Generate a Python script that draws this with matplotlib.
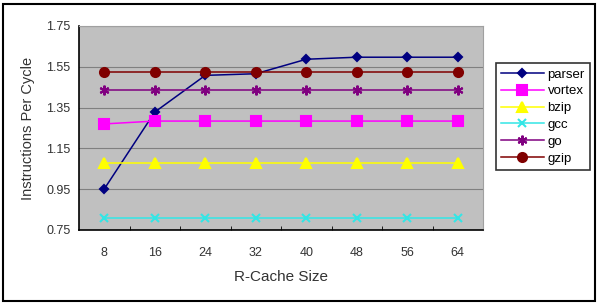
import matplotlib.pyplot as plt
from matplotlib.patches import Rectangle

# R-Cache sizes and IPC per benchmark
sizes = ["8", "16", "24", "32", "40", "48", "56", "64"]
parser = [0.951, 1.328, 1.508, 1.516, 1.587, 1.597, 1.597, 1.597]
vortex = [1.270, 1.284, 1.284, 1.284, 1.284, 1.284, 1.284, 1.284]
bzip = [1.077, 1.077, 1.077, 1.077, 1.077, 1.077, 1.077, 1.077]
gcc = [0.807, 0.807, 0.807, 0.807, 0.807, 0.807, 0.807, 0.807]
go = [1.438, 1.438, 1.438, 1.438, 1.438, 1.438, 1.438, 1.438]
gzip = [1.525, 1.525, 1.525, 1.525, 1.525, 1.525, 1.525, 1.525]

yticks = [0.75, 0.95, 1.15, 1.35, 1.55, 1.75]

plt.rcParams['font.family'] = ['Liberation Sans', 'DejaVu Sans']

fig = plt.figure(figsize=(5.99, 3.04), dpi=100)
ax = fig.add_axes([79 / 599, 1 - 230 / 304, 404 / 599, 204 / 304])
ax.set_facecolor('#C0C0C0')

x = list(range(len(sizes)))
series = [
    ("parser", parser, '#000080', 'D', 4.5),
    ("vortex", vortex, '#FF00FF', 's', 6.5),
    ("bzip", bzip, '#FFFF00', '^', 6.5),
    ("gcc", gcc, '#33E6E6', 'x', 6),
    ("go", go, '#800080', (6, 2, 0), 7),
    ("gzip", gzip, '#800000', 'o', 6.5),
]
for name, vals, col, mk, ms in series:
    ax.plot(x, vals, color=col, marker=mk, markersize=ms, markerfacecolor=col,
            markeredgecolor=col, markeredgewidth=1.5, linewidth=1.1, label=name)

ax.set_xlim(-0.5, len(sizes) - 0.5)
ax.set_ylim(0.75, 1.75)
ax.set_yticks(yticks)
ax.set_yticklabels([f"{v:.2f}" for v in yticks])
ax.set_xticks(x)
ax.set_xticklabels(sizes)
ax.set_xticks([i + 0.5 for i in range(len(sizes) - 1)], minor=True)
ax.tick_params(axis='x', which='major', length=0, pad=12, labelsize=9, colors='#333333')
ax.tick_params(axis='x', which='minor', length=3, direction='in', color='black')
ax.tick_params(axis='y', length=0, pad=6, labelsize=9, colors='#333333')
ax.yaxis.grid(True, color='#808080', linewidth=0.8)
ax.set_axisbelow(True)
for s in ['top', 'right']:
    ax.spines[s].set_color('#A0A0A0')
for s in ['left', 'bottom']:
    ax.spines[s].set_color('black')
    ax.spines[s].set_linewidth(1.2)

ax.set_ylabel("Instructions Per Cycle", fontsize=10.5, color='#333333', labelpad=8)
ax.set_xlabel("R-Cache Size", fontsize=11, color='#333333', labelpad=8)

leg = fig.legend(loc='upper left', bbox_to_anchor=(496 / 599, 1 - 63 / 304), frameon=True,
                 fancybox=False, edgecolor='black', fontsize=9.5, handlelength=3.2,
                 labelspacing=0.35, borderpad=0.4, handletextpad=0.3, borderaxespad=0)
leg.get_frame().set_linewidth(1.2)

fig.patches.append(Rectangle((3 / 599, 3 / 304), 592 / 599, 297 / 304, transform=fig.transFigure,
                             fill=False, edgecolor='black', linewidth=1.5))

fig.savefig("out.png", dpi=100)
